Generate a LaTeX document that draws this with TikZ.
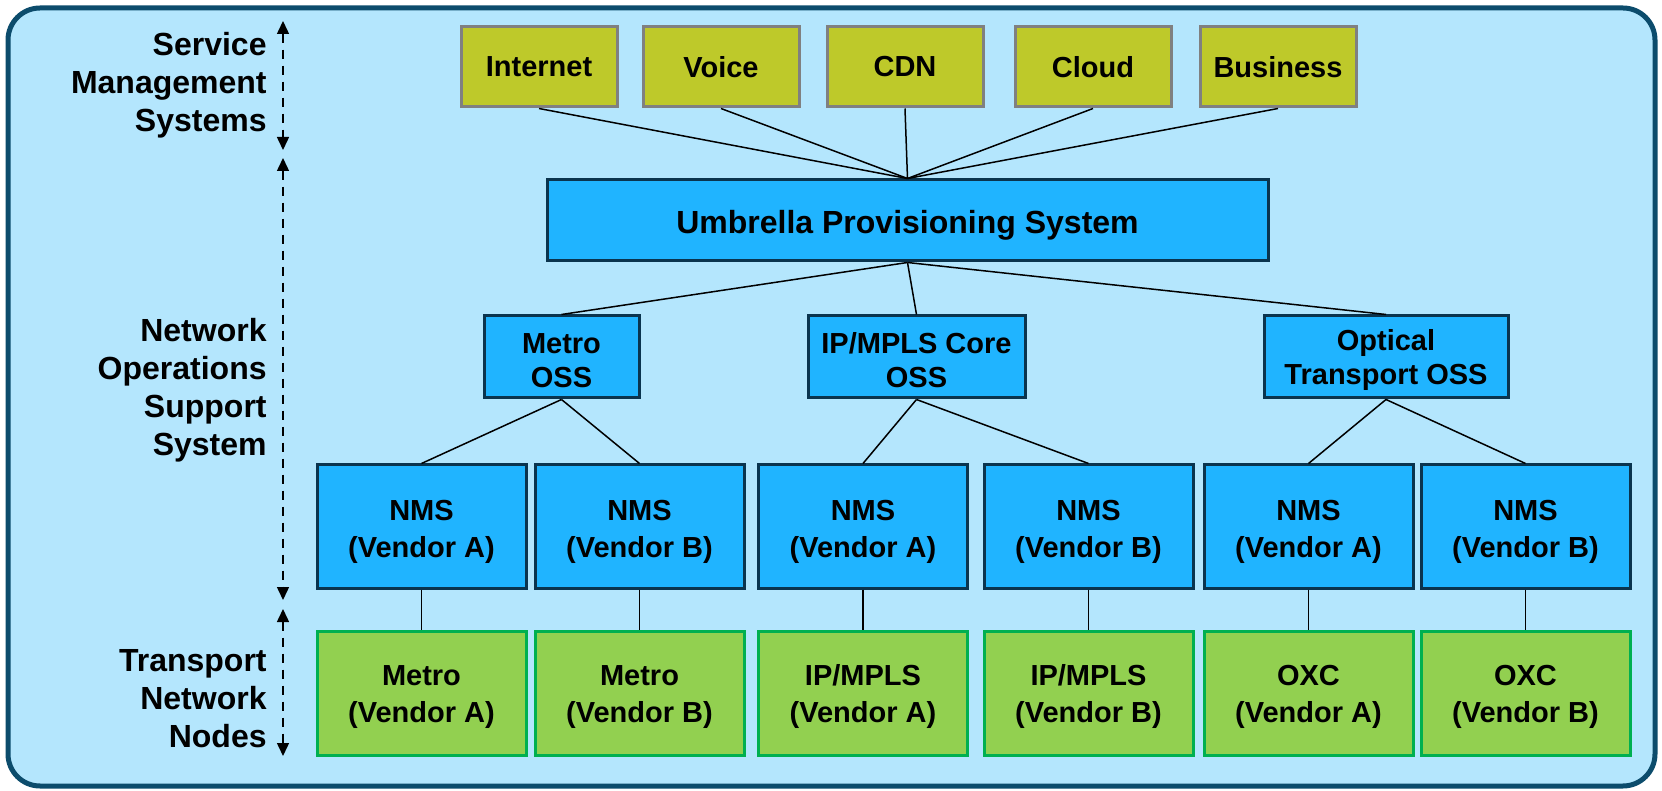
\documentclass[tikz,border=0pt]{standalone}
\usepackage{fontspec}
\setmainfont{Liberation Sans}
\usepackage{xcolor}
\usetikzlibrary{positioning, arrows.meta}

\definecolor{bgblue}{RGB}{180,230,253}
\definecolor{frameblue}{RGB}{12,76,108}
\definecolor{servicefill}{RGB}{190,201,42}
\definecolor{ossfill}{RGB}{32,180,255}
\definecolor{ossline}{RGB}{10,52,78}
\definecolor{nodefill}{RGB}{146,208,80}
\definecolor{nodeline}{RGB}{0,176,80}

\begin{document}
\begin{tikzpicture}[
  x=0.5pt, y=-0.5pt,
  servicenode/.style={draw={rgb,255:red,128;green,128;blue,128}, line width=1.5pt, fill=servicefill, minimum width=78pt, minimum height=40pt, font=\fontsize{14.5}{18.5}\selectfont\bfseries, align=center},
  ossnode/.style={draw=ossline, line width=1.5pt, fill=ossfill, minimum height=41pt, text height=30.9pt, font=\fontsize{14.5}{17}\selectfont\bfseries, align=center},
  nmsnode/.style={draw=ossline, line width=1.5pt, fill=ossfill, minimum width=104.5pt, minimum height=61.5pt, text height=33.9pt, font=\fontsize{14.5}{18.5}\selectfont\bfseries, align=center},
  transportnode/.style={draw=nodeline, line width=1.5pt, fill=nodefill, minimum width=104.5pt, minimum height=62pt, text height=33pt, font=\fontsize{14.5}{18.5}\selectfont\bfseries, align=center},
  layerlabel/.style={anchor=east, align=right, inner sep=0pt, font=\fontsize{16}{19}\selectfont\bfseries},
  layerarrow/.style={<->, >={Triangle[length=6.5pt, width=6pt]}, dash pattern=on 4.5pt off 3.5pt, line width=0.75pt},
  link/.style={line width=0.75pt}
]
  \useasboundingbox (0,0) rectangle (1662,791);
  \draw[draw=frameblue, fill=bgblue, line width=2.5pt, rounded corners=16pt] (8,8) rectangle (1655,786);

  % Service Management Systems
  \draw
    (539,67) node[servicenode] (internet){Internet}
    (721,67) node[servicenode] (voice){Voice}
    (905,67) node[servicenode] (cdn){CDN}
    (1093,67) node[servicenode] (cloud){Cloud}
    (1278,67) node[servicenode] (business){Business};

  % Network Operations Support System
  \draw
    (907.5,220.5) node[ossnode, minimum width=360.5pt, minimum height=40.5pt, text height=16.7pt, font=\fontsize{16}{19}\selectfont\bfseries] (ups){Umbrella Provisioning System}
    (561.5,357) node[ossnode, minimum width=77.5pt] (metrooss){Metro\\OSS}
    (916.5,357) node[ossnode, minimum width=108.5pt] (iposs){IP/MPLS Core\\OSS}
    (1386,357) node[ossnode, minimum width=122pt] (optoss){Optical\\Transport OSS};
  \draw
    (421.5,526.5) node[nmsnode] (nms1){NMS\\(Vendor A)}
    (639.5,526.5) node[nmsnode] (nms2){NMS\\(Vendor B)}
    (863,526.5) node[nmsnode] (nms3){NMS\\(Vendor A)}
    (1088.5,526.5) node[nmsnode] (nms4){NMS\\(Vendor B)}
    (1308.5,526.5) node[nmsnode] (nms5){NMS\\(Vendor A)}
    (1525.5,526.5) node[nmsnode] (nms6){NMS\\(Vendor B)};

  % Transport Network Nodes
  \draw
    (421.5,693) node[transportnode] (tn1){Metro\\(Vendor A)}
    (639.5,693) node[transportnode] (tn2){Metro\\(Vendor B)}
    (863,693) node[transportnode] (tn3){IP/MPLS\\(Vendor A)}
    (1088.5,693) node[transportnode] (tn4){IP/MPLS\\(Vendor B)}
    (1308.5,693) node[transportnode] (tn5){OXC\\(Vendor A)}
    (1525.5,693) node[transportnode] (tn6){OXC\\(Vendor B)};

  \begin{scope}[link]
    \draw (internet.south) to (ups.north);
    \draw (voice.south) to (ups.north);
    \draw (cdn.south) to (ups.north);
    \draw (cloud.south) to (ups.north);
    \draw (business.south) to (ups.north);
    \draw (ups.south) to (metrooss.north);
    \draw (ups.south) to (iposs.north);
    \draw (ups.south) to (optoss.north);
    \draw (metrooss.south) to (nms1.north);
    \draw (metrooss.south) to (nms2.north);
    \draw (iposs.south) to (nms3.north);
    \draw (iposs.south) to (nms4.north);
    \draw (optoss.south) to (nms5.north);
    \draw (optoss.south) to (nms6.north);
    \draw (nms1.south) to (tn1.north);
    \draw (nms2.south) to (tn2.north);
    \draw (nms3.south) to (tn3.north);
    \draw (nms4.south) to (tn4.north);
    \draw (nms5.south) to (tn5.north);
    \draw (nms6.south) to (tn6.north);
  \end{scope}

  % Layer labels
  \node[layerlabel] (smslabel) at (267,85) {Service\\Management\\Systems};
  \node[layerlabel] (osslabel) at (267,390) {Network\\Operations\\Support\\System};
  \node[layerlabel] (tnlabel) at (267,699) {Transport\\Network\\Nodes};

  \coordinate (smstop) at (283,21);
  \coordinate (smsbot) at (283,150);
  \coordinate (osstop) at (283,158);
  \coordinate (ossbot) at (283,600);
  \coordinate (tntop) at (283,609);
  \coordinate (tnbot) at (283,756);
  \draw[layerarrow] (smstop) -- (smsbot);
  \draw[layerarrow] (osstop) -- (ossbot);
  \draw[layerarrow] (tntop) -- (tnbot);
\end{tikzpicture}
\end{document}
